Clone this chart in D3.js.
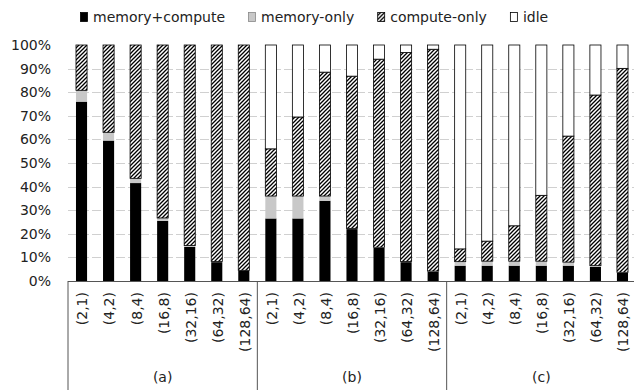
<!DOCTYPE html>
<html>
<head>
<meta charset="utf-8">
<script src="https://cdn.jsdelivr.net/npm/d3@7"></script>
<style>
  body { margin: 0; background: #fff; }
  svg { display: block; font-family: "DejaVu Sans", sans-serif; }
</style>
</head>
<body>
<svg width="634" height="390"></svg>
<script>
// categories (bar labels) repeated for each group
var categories = ["(2,1)", "(4,2)", "(8,4)", "(16,8)", "(32,16)", "(64,32)", "(128,64)"];
var groups = ["(a)", "(b)", "(c)"];
var seriesNames = ["memory+compute", "memory-only", "compute-only", "idle"];

// values in percent, 7 per group, groups a, b, c
var memCompute  = [76, 59.5, 41.5, 25.5, 14.5, 8, 4.3,
                   26.5, 26.5, 34, 22, 14, 8, 4,
                   6.5, 6.5, 6.5, 6.5, 6.5, 6, 3.5];
var memOnly     = [4.8, 3.5, 2, 1.2, 0.5, 0.3, 0.2,
                   9.5, 9.5, 2, 0.3, 0.3, 0.3, 0.2,
                   1.7, 1.9, 1.9, 1.9, 1.5, 0.5, 0.2];
var computeOnly = [19.2, 37, 56.5, 73.3, 85, 91.7, 95.5,
                   20, 33.5, 52.5, 64.5, 79.7, 88.5, 94,
                   5.4, 8.5, 15, 27.9, 53.4, 72.3, 86.4];
var idle        = [0, 0, 0, 0, 0, 0, 0,
                   44, 30.5, 11.5, 13.2, 6, 3.2, 1.8,
                   86.4, 83.1, 76.6, 63.7, 38.6, 21.2, 9.9];
var yTicks = [0, 10, 20, 30, 40, 50, 60, 70, 80, 90, 100];

var svg = d3.select("svg");
var plotLeft = 68, plotRight = 636, plotTop = 45, plotBottom = 281;

// pattern for compute-only
var defs = svg.append("defs");
var pat = defs.append("pattern")
    .attr("id", "hatch")
    .attr("patternUnits", "userSpaceOnUse")
    .attr("width", 4).attr("height", 4);
pat.append("rect").attr("width", 4).attr("height", 4).attr("fill", "#fff");
pat.append("path")
    .attr("d", "M-1,1 l2,-2 M0,4 l4,-4 M3,5 l2,-2")
    .attr("stroke", "#000").attr("stroke-width", 1.3);

var fills = {"memory+compute": "#000", "memory-only": "#c8c8c8", "compute-only": "url(#hatch)", "idle": "#fff"};
var strokes = {"memory+compute": "none", "memory-only": "none", "compute-only": "#000", "idle": "#000"};

// table for stack
var rows = [];
groups.forEach(function(g, gi) {
    categories.forEach(function(c, ci) {
        var i = gi * categories.length + ci;
        rows.push({
            key: g + c, label: c, group: g,
            "memory+compute": memCompute[i],
            "memory-only": memOnly[i],
            "compute-only": computeOnly[i],
            "idle": idle[i]
        });
    });
});

var x = d3.scaleBand()
    .domain(rows.map(function(d) { return d.key; }))
    .range([plotLeft, plotRight])
    .paddingInner(0.59)
    .paddingOuter(0.295);

var y = d3.scaleLinear().domain([0, 100]).range([plotBottom, plotTop]);

// gridlines
svg.append("g")
    .selectAll("line")
    .data(yTicks.filter(function(t) { return t > 0 && t < 100; }))
    .enter().append("line")
    .attr("x1", plotLeft).attr("x2", 634)
    .attr("y1", function(d) { return Math.round(y(d)) + 0.5; })
    .attr("y2", function(d) { return Math.round(y(d)) + 0.5; })
    .attr("stroke", "#d0d0d0")
    .attr("stroke-dasharray", "9,3");

// y axis labels
var yAxis = svg.append("g")
    .attr("transform", "translate(51,0)")
    .call(d3.axisLeft(y).tickValues(yTicks).tickSize(0).tickPadding(0)
        .tickFormat(function(d) { return d + "%"; }));
yAxis.select(".domain").remove();
yAxis.selectAll("text")
    .attr("font-family", "DejaVu Sans, sans-serif")
    .attr("font-size", 14)
    .attr("fill", "#222");

// bars
var stack = d3.stack().keys(seriesNames)(rows);
svg.append("g")
    .selectAll("g")
    .data(stack)
    .enter().append("g")
    .attr("fill", function(d) { return fills[d.key]; })
    .attr("stroke", function(d) { return strokes[d.key]; })
    .attr("stroke-width", 0.8)
    .selectAll("rect")
    .data(function(d) { return d.filter(function(p) { return p[1] - p[0] > 0; }); })
    .enter().append("rect")
    .attr("x", function(d) { return x(d.data.key); })
    .attr("y", function(d) { return y(d[1]); })
    .attr("width", x.bandwidth())
    .attr("height", function(d) { return y(d[0]) - y(d[1]); });

// category axis line
svg.append("line")
    .attr("x1", plotLeft).attr("x2", 634)
    .attr("y1", plotBottom + 0.5).attr("y2", plotBottom + 0.5)
    .attr("stroke", "#555");

// group separators
var step = x.step();
svg.append("g")
    .selectAll("line")
    .data(d3.range(groups.length + 1))
    .enter().append("line")
    .attr("x1", function(d) { return plotLeft + d * categories.length * step; })
    .attr("x2", function(d) { return plotLeft + d * categories.length * step; })
    .attr("y1", plotBottom).attr("y2", 390)
    .attr("stroke", "#555");

// tick labels, rotated
svg.append("g")
    .selectAll("text")
    .data(rows)
    .enter().append("text")
    .attr("transform", function(d) {
        return "translate(" + (x(d.key) + x.bandwidth() / 2 + 1) + ",292) rotate(-90)";
    })
    .attr("text-anchor", "end")
    .attr("dy", "0.35em")
    .attr("font-size", 14)
    .attr("fill", "#222")
    .text(function(d) { return d.label; });

// group labels
svg.append("g")
    .selectAll("text")
    .data(groups)
    .enter().append("text")
    .attr("x", function(d, i) { return plotLeft + (i + 0.5) * categories.length * step; })
    .attr("y", 377)
    .attr("dy", "0.35em")
    .attr("text-anchor", "middle")
    .attr("font-size", 14)
    .attr("fill", "#222")
    .text(function(d) { return d; });

// legend
var legend = svg.append("g").attr("font-size", 14);
var lx = 80;
seriesNames.forEach(function(name) {
    var item = legend.append("g").attr("transform", "translate(" + lx + ",0)");
    item.append("rect")
        .attr("x", 0.5).attr("y", 12.5)
        .attr("width", 7).attr("height", 9)
        .attr("fill", fills[name])
        .attr("stroke", name === "memory-only" ? "#888" : "#000")
        .attr("stroke-width", 0.8);
    var t = item.append("text")
        .attr("x", 13).attr("y", 17)
        .attr("dy", "0.35em")
        .attr("fill", "#222")
        .text(name);
    lx += 13 + t.node().getComputedTextLength() + 23;
});
</script>
</body>
</html>
